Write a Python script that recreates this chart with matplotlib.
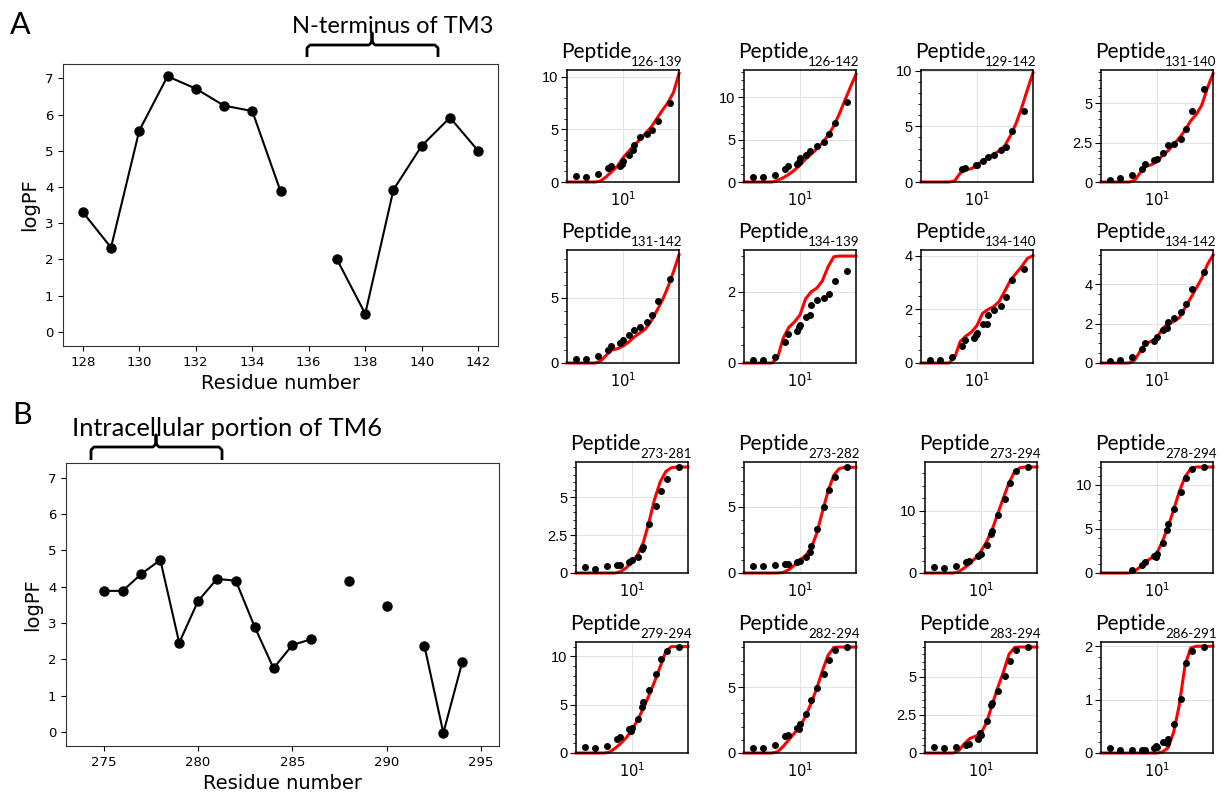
import numpy as np
import matplotlib.pyplot as plt
from matplotlib.ticker import AutoMinorLocator, NullLocator
from matplotlib.lines import Line2D

plt.rcParams['mathtext.fontset'] = 'custom'
plt.rcParams['mathtext.rm'] = 'Liberation Sans'

nan = np.nan

# ---- protection factor profiles ----
res_A = [128, 129, 130, 131, 132, 133, 134, 135, 136, 137, 138, 139, 140, 141, 142]
logpf_A = [3.31, 2.33, 5.56, 7.06, 6.72, 6.25, 6.10, 3.89, nan, 2.0, 0.50, 3.93, 5.14, 5.92, 5.0]

res_B = [275, 276, 277, 278, 279, 280, 281, 282, 283, 284, 285, 286, 287, 288, 289,
         290, 291, 292, 293, 294]
logpf_B = [3.88, 3.88, 4.35, 4.73, 2.45, 3.60, 4.21, 4.16, 2.89, 1.75, 2.39, 2.55, nan,
           4.16, nan, 3.47, nan, 2.36, -0.03, 1.91]

# ---- uptake data: measured time points and fitted curves ----
t_meas = [3.80, 4.68, 5.96, 7.41, 7.85, 9.33, 9.77, 10.0, 11.22, 12.16, 12.59, 14.13,
          16.22, 17.99, 20.65, 26.30]
t_fit = [3.16, 3.55, 3.98, 4.47, 5.01, 5.62, 6.31, 7.08, 7.94, 8.91, 10.0, 11.2, 12.6,
         14.1, 15.8, 17.8, 20.0, 22.4, 25.1, 28.2, 31.6]

names = ['126-139', '126-142', '129-142', '131-140',
         '131-142', '134-139', '134-140', '134-142',
         '273-281', '273-282', '273-294', '278-294',
         '279-294', '282-294', '283-294', '286-291']

d_126_139 = [0.54, 0.44, 0.76, 1.33, 1.49, 1.5, 1.75, 1.97, 2.54, 3.02, 3.49, 4.29, 4.51, 4.98, 5.78, 7.52]
d_126_142 = [0.59, 0.59, 0.87, 1.58, 1.86, 2.17, 2.37, 2.77, 3.16, 3.64, nan, 4.23, 4.74, 5.6, 7.0, 9.37]
d_129_142 = [nan, nan, nan, 1.2, 1.3, nan, 1.5, 1.56, 1.86, nan, 2.2, 2.46, 2.85, 3.15, 4.6, 6.37]
d_131_140 = [0.15, 0.26, 0.43, 0.85, 1.17, 1.38, nan, 1.49, 1.85, nan, 2.34, 2.4, 2.72, 3.4, 4.53, 5.89]
d_131_142 = [0.33, 0.33, 0.51, 1.03, 1.33, 1.54, nan, 1.8, 2.13, nan, 2.56, 2.77, 3.15, 3.67, 4.77, 6.41]
d_134_139 = [0.09, 0.08, 0.17, 0.58, 0.81, 0.9, 1.0, 1.06, 1.3, 1.34, 1.62, 1.77, 1.81, 1.93, 2.3, 2.59]
d_134_140 = [0.1, 0.1, 0.22, 0.62, 0.87, 0.95, 1.03, 1.1, 1.44, 1.44, 1.78, 1.96, 2.14, 2.47, 3.11, 3.52]
d_134_142 = [0.1, 0.13, 0.29, 0.73, 1.0, 1.12, nan, 1.32, 1.69, 1.78, 2.08, 2.3, 2.58, 2.97, 3.75, 4.63]
d_273_281 = [0.4, 0.26, 0.44, 0.51, 0.55, 0.75, nan, 0.84, 1.06, 1.61, 1.7, 3.24, 4.41, 5.4, 6.23, 7.0]
d_273_282 = [0.56, 0.5, 0.63, 0.68, 0.7, 0.8, nan, 0.93, 1.19, 1.6, 2.02, 3.33, 5.0, 6.31, 7.27, 8.0]
d_273_294 = [1.0, 0.8, 1.07, 1.76, 1.98, 2.8, nan, 3.05, 4.55, 6.3, 6.8, 9.25, 11.9, 14.5, 16.3, 17.0]
d_278_294 = [nan, nan, 0.38, 0.94, 1.2, 1.9, 1.8, 2.1, 3.4, 4.9, 5.5, 7.2, 9.2, 10.75, 11.8, 12.0]
d_279_294 = [0.62, 0.55, 0.69, 1.48, 1.66, 2.5, 2.28, 2.62, 3.55, 4.76, 5.28, 6.48, 8.2, 9.76, 10.6, 10.97]
d_282_294 = [0.4, 0.38, 0.58, 1.26, 1.34, 1.92, 1.84, 2.22, 2.98, nan, 3.99, 4.95, 5.96, 7.02, 7.83, 8.03]
d_283_294 = [0.39, 0.33, 0.39, 0.5, 0.61, 0.94, 1.3, 1.16, 2.1, 3.14, 3.3, 4.06, 5.04, 6.05, 6.8, 6.97]
d_286_291 = [0.1, 0.05, 0.05, 0.06, 0.06, 0.1, 0.14, 0.12, 0.2, 0.18, 0.27, 0.55, 1.02, 1.68, 1.91, 1.99]

f_126_139 = [0, 0, 0, 0, 0, 0, 0.1, 0.5, 1.0, 1.5, 2.3, 2.9, 3.5, 4.0, 4.6, 5.2, 6.0, 6.8, 7.5, 8.5, 10.3]
f_126_142 = [0, 0, 0, 0, 0, 0, 0.2, 0.5, 0.9, 1.4, 2.0, 2.7, 3.3, 3.9, 4.6, 5.5, 6.6, 8.0, 9.6, 11.2, 12.7]
f_129_142 = [0, 0, 0, 0, 0, 0, 0.1, 0.8, 1.1, 1.2, 1.5, 1.9, 2.2, 2.5, 2.8, 3.3, 4.2, 5.3, 6.7, 8.3, 9.8]
f_131_140 = [0, 0, 0, 0, 0, 0, 0.1, 0.6, 1.0, 1.1, 1.3, 1.7, 2.0, 2.4, 2.8, 3.3, 3.9, 4.3, 4.9, 6.0, 6.9]
f_131_142 = [0, 0, 0, 0, 0, 0, 0.15, 0.6, 1.0, 1.1, 1.3, 1.6, 2.0, 2.3, 2.6, 3.2, 4.0, 4.8, 5.8, 7.0, 8.3]
f_134_139 = [0, 0, 0, 0, 0, 0, 0.15, 0.7, 1.0, 1.15, 1.35, 1.8, 2.0, 2.1, 2.3, 2.7, 2.98, 3.0, 3.0, 3.0, 3.0]
f_134_140 = [0, 0, 0, 0, 0, 0, 0.2, 0.8, 1.0, 1.15, 1.4, 1.85, 2.0, 2.1, 2.3, 2.7, 3.1, 3.35, 3.6, 3.9, 4.0]
f_134_142 = [0, 0, 0, 0, 0, 0, 0.15, 0.6, 1.0, 1.1, 1.3, 1.75, 2.0, 2.1, 2.3, 2.8, 3.3, 3.8, 4.3, 5.0, 5.47]
f_273_281 = [0, 0, 0, 0, 0, 0, 0, 0, 0.1, 0.35, 0.75, 1.2, 2.0, 3.3, 4.8, 6.0, 6.7, 6.95, 7.0, 7.0, 7.0]
f_273_282 = [0, 0, 0, 0, 0, 0, 0, 0.05, 0.25, 0.6, 1.0, 1.3, 1.9, 3.0, 4.6, 6.2, 7.4, 7.9, 8.0, 8.0, 8.0]
f_273_294 = [0, 0, 0, 0, 0, 0, 0.2, 0.8, 1.5, 2.4, 3.5, 5.0, 7.0, 9.5, 12.0, 14.5, 16.3, 16.9, 17.0, 17.0, 17.0]
f_278_294 = [0, 0, 0, 0, 0, 0, 0.2, 0.7, 1.3, 1.7, 2.3, 3.6, 5.3, 7.2, 9.2, 10.9, 11.8, 12.0, 12.0, 12.0, 12.0]
f_279_294 = [0, 0, 0, 0, 0, 0, 0.1, 0.5, 1.0, 1.6, 2.4, 3.4, 4.6, 5.9, 7.3, 8.9, 10.5, 11.0, 11.0, 11.0, 11.0]
f_282_294 = [0, 0, 0, 0, 0, 0, 0.1, 0.5, 1.0, 1.5, 2.0, 2.8, 3.8, 4.9, 6.2, 7.4, 8.0, 8.03, 8.03, 8.03, 8.03]
f_283_294 = [0, 0, 0, 0, 0, 0, 0.15, 0.6, 0.95, 1.1, 1.3, 2.0, 3.2, 4.3, 5.3, 6.5, 6.95, 6.97, 6.97, 6.97, 6.97]
f_286_291 = [0, 0, 0, 0, 0, 0, 0, 0, 0, 0, 0, 0.02, 0.1, 0.4, 0.9, 1.65, 1.97, 2.0, 2.0, 2.0, 2.0]

meas = [d_126_139, d_126_142, d_129_142, d_131_140, d_131_142, d_134_139, d_134_140, d_134_142,
        d_273_281, d_273_282, d_273_294, d_278_294, d_279_294, d_282_294, d_283_294, d_286_291]
fits = [f_126_139, f_126_142, f_129_142, f_131_140, f_131_142, f_134_139, f_134_140, f_134_142,
        f_273_281, f_273_282, f_273_294, f_278_294, f_279_294, f_282_294, f_283_294, f_286_291]
ytop = [10.63, 13.2, 10.05, 7.13, 8.67, 3.17, 4.21, 5.73,
        7.33, 8.4, 17.8, 12.57, 11.48, 8.41, 7.3, 2.08]
ystep = [5, 5, 5, 2.5, 5, 2, 2, 2, 2.5, 5, 10, 5, 5, 5, 2.5, 1]

# ---- layout (pixels) ----
W, H = 1222, 792
fig = plt.figure(figsize=(W / 100, H / 100), dpi=100)


def add_ax(l, t, r, b):
    return fig.add_axes([l / W, 1 - b / H, (r - l) / W, (b - t) / H])


def fx(x):
    return x / W


def fy(y):
    return 1 - y / H


# main profile panels
for (l, t, r, b), res, pf, ticks in [((63, 64, 498, 346), res_A, logpf_A, range(128, 143, 2)),
                                     ((66, 463, 499, 746), res_B, logpf_B, range(275, 296, 5))]:
    ax = add_ax(l, t, r, b)
    ax.plot(res, pf, '-o', color='black', lw=1.5, ms=6.5)
    ax.set_ylim(-0.39, 7.4)
    ax.set_yticks(range(0, 8))
    ax.set_xticks(list(ticks))
    ax.tick_params(labelsize=9.5)
    ax.set_xlabel('Residue number', fontsize=14, labelpad=4)
    ax.set_ylabel('logPF', fontsize=14, labelpad=4)
    for s in ax.spines.values():
        s.set_color('#333333')
    if res is res_B:
        ax.set_xlim(273, 295.95)

fig.text(fx(10), fy(34), 'A', fontsize=22, family='Lato')
fig.text(fx(12), fy(424), 'B', fontsize=22, family='Lato')


def brace(x0, x1, xm, ybar, yleg, ytip):
    r = 3
    xs = [x0, x0, x0 + r, xm - r, xm, xm, xm, xm + r, x1 - r, x1, x1]
    ys = [yleg, ybar + r, ybar, ybar, ybar - r, ytip, ybar - r, ybar, ybar, ybar + r, yleg]
    fig.add_artist(Line2D([fx(v) for v in xs], [fy(v) for v in ys], color='black', lw=2,
                          solid_joinstyle='round', solid_capstyle='butt'))


brace(307, 438, 372, 45, 57, 33)
fig.text(fx(393), fy(33), 'N-terminus of TM3', fontsize=17, family='Lato',
         ha='center', va='baseline')
brace(91, 222, 156, 447, 460, 435)
fig.text(fx(227), fy(436), 'Intracellular portion of TM6', fontsize=18.3, family='Lato',
         ha='center', va='baseline')

# uptake panels
rows = [(70, 182), (250, 363), (462, 573), (642, 753)]
cols_A = [567, 744, 921, 1101]
cols_B = [576, 744, 925, 1101]
for i in range(16):
    r, c = divmod(i, 4)
    t, b = rows[r]
    l = (cols_A if r < 2 else cols_B)[c]
    w = 112
    ax = add_ax(l, t, l + w, b)
    ax.plot(t_fit, fits[i], color='red', lw=2.2, zorder=2, clip_on=False)
    ax.plot(t_meas, meas[i], 'o', color='black', ms=4, zorder=3)
    ax.set_xscale('log')
    ax.set_xlim(3.16, 31.6)
    ax.set_ylim(0, ytop[i])
    ax.set_xticks([10])
    ax.xaxis.set_minor_locator(NullLocator())
    st = ystep[i]
    yt = [v * st for v in range(int(ytop[i] / st) + 1)]
    ax.set_yticks(yt)
    ax.set_yticklabels([('%g' % v) for v in yt], family='Liberation Sans')
    ax.yaxis.set_minor_locator(AutoMinorLocator(4 if st == 2 else 5))
    ax.grid(True, color='#e4e4e4', lw=0.8)
    ax.set_axisbelow(True)
    ax.tick_params(axis='y', which='major', length=4, width=0.8, labelsize=10.5, pad=2)
    ax.tick_params(axis='y', which='minor', length=2.5, width=0.6)
    ax.tick_params(axis='x', length=0, labelsize=10.5, pad=6)
    for s in ax.spines.values():
        s.set_linewidth(1.1)
    ttl = fig.text(fx(l - 6), fy(t - 12), 'Peptide', fontsize=15, family='Lato', va='baseline')
    ax.annotate(names[i], xy=(1, 0), xycoords=ttl, xytext=(0, -3.0),
                textcoords='offset points', fontsize=9.6, family='Lato', va='baseline')

fig.savefig('out.png', dpi=100)
